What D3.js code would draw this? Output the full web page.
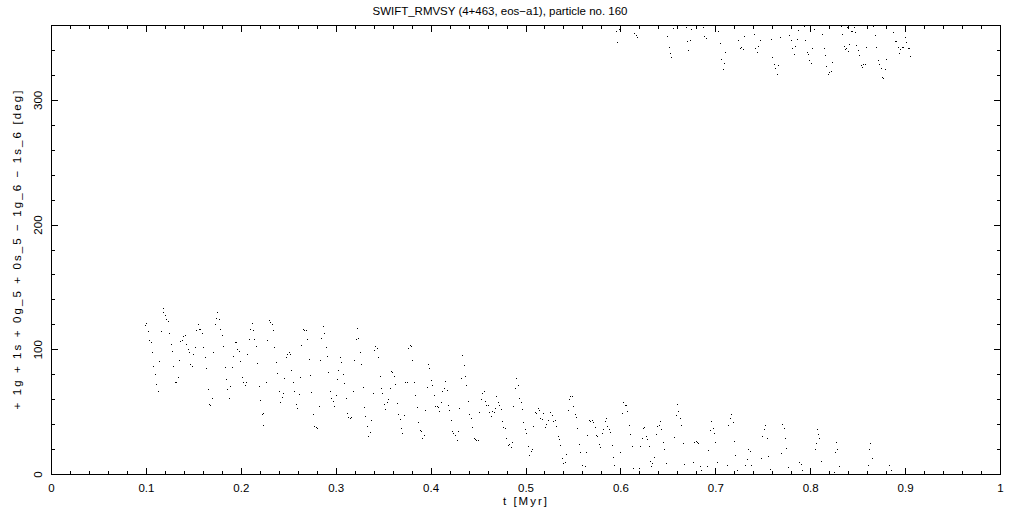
<!DOCTYPE html>
<html>
<head>
<meta charset="utf-8">
<script src="https://cdn.jsdelivr.net/npm/d3@7"></script>
<style>
  html, body { margin: 0; padding: 0; background: #fff; }
  svg { display: block; }
  text { font-family: "Liberation Sans", "DejaVu Sans", sans-serif; fill: #000; }
</style>
</head>
<body>
<svg id="chart" width="1021" height="511"></svg>
<script>
// ---- data ----
const titleText = "SWIFT_RMVSY (4+463, eos\u2212a1), particle no. 160";
const xLabelText = "t [Myr]";
const yLabelText = "+ 1g + 1s + 0g_5 + 0s_5 \u2212 1g_6 \u2212 1s_6 [deg]";
const xTickLabels = ["0","0.1","0.2","0.3","0.4","0.5","0.6","0.7","0.8","0.9","1"];
const yTickLabels = ["0","100","200","300"];
const xDomain = [0, 1];
const yDomain = [0, 360];

// lower band of the angle (t in Myr, angle in deg)
const tLower = [
0.0991,0.1001,0.1025,0.1036,0.1054,0.1068,0.1078,0.1099,0.1110,0.1131,0.1141,0.1162,0.1177,0.1184,0.1201,0.1215,0.1233,0.1247,0.1268,0.1278,
0.1289,0.1310,0.1320,0.1341,0.1352,0.1363,0.1384,0.1394,0.1415,0.1426,0.1447,0.1457,0.1468,0.1489,0.1499,0.1521,0.1531,0.1552,0.1563,0.1573,
0.1594,0.1605,0.1626,0.1637,0.1658,0.1668,0.1679,0.1700,0.1710,0.1731,0.1742,0.1752,0.1773,0.1784,0.1805,0.1816,0.1837,0.1847,0.1858,0.1879,
0.1889,0.1910,0.1921,0.1942,0.1953,0.1963,0.1984,0.1995,0.2016,0.2026,0.2047,0.2058,0.2069,0.2090,0.2100,0.2121,0.2132,0.2142,0.2163,0.2174,
0.2195,0.2205,0.2227,0.2237,0.2237,0.2269,0.2279,0.2300,0.2311,0.2332,0.2343,0.2353,0.2374,0.2385,0.2406,0.2417,0.2437,0.2448,0.2458,0.2479,
0.2490,0.2511,0.2522,0.2532,0.2553,0.2564,0.2585,0.2595,0.2616,0.2627,0.2638,0.2659,0.2669,0.2690,0.2701,0.2722,0.2732,0.2743,0.2764,0.2774,
0.2796,0.2806,0.2827,0.2838,0.2848,0.2869,0.2880,0.2901,0.2912,0.2922,0.2943,0.2954,0.2975,0.2985,0.3006,0.3017,0.3027,0.3049,0.3059,0.3080,
0.3091,0.3112,0.3122,0.3133,0.3154,0.3164,0.3185,0.3196,0.3217,0.3227,0.3238,0.3259,0.3270,0.3291,0.3301,0.3312,0.3333,0.3344,0.3365,0.3375,
0.3396,0.3407,0.3417,0.3438,0.3449,0.3470,0.3480,0.3491,0.3512,0.3523,0.3544,0.3554,0.3575,0.3586,0.3596,0.3618,0.3628,0.3649,0.3660,0.3681,
0.3691,0.3702,0.3723,0.3733,0.3754,0.3765,0.3786,0.3797,0.3807,0.3828,0.3839,0.3860,0.3871,0.3891,0.3902,0.3913,0.3934,0.3944,0.3965,0.3976,
0.3986,0.4007,0.4018,0.4039,0.4049,0.4070,0.4081,0.4092,0.4110,0.4123,0.4144,0.4155,0.4176,0.4187,0.4197,0.4218,0.4229,0.4239,0.4260,0.4281,
0.4292,0.4302,0.4324,0.4334,0.4355,0.4366,0.4376,0.4397,0.4408,0.4429,0.4439,0.4460,0.4471,0.4482,0.4503,0.4513,0.4534,0.4545,0.4566,0.4576,
0.4587,0.4608,0.4619,0.4640,0.4650,0.4671,0.4682,0.4692,0.4713,0.4724,0.4745,0.4756,0.4766,0.4787,0.4798,0.4819,0.4829,0.4850,0.4861,0.4871,
0.4893,0.4903,0.4924,0.4935,0.4956,0.4966,0.4977,0.4998,0.5008,0.5030,0.5040,0.5061,0.5072,0.5082,0.5103,0.5114,0.5135,0.5145,0.5156,0.5177,
0.5188,0.5209,0.5219,0.5240,0.5262,0.5283,0.5293,0.5314,0.5325,0.5346,0.5356,0.5367,0.5388,0.5398,0.5419,0.5430,0.5451,0.5462,0.5472,0.5493,
0.5504,0.5525,0.5535,0.5546,0.5567,0.5578,0.5599,0.5630,0.5641,0.5651,0.5672,0.5683,0.5704,0.5714,0.5735,0.5746,0.5756,0.5777,0.5788,0.5809,
0.5820,0.5841,0.5851,0.5862,0.5883,0.5893,0.5915,0.5925,0.5936,0.5999,0.6020,0.6031,0.6052,0.6062,0.6073,0.6094,0.6104,0.6125,0.6136,0.6199,
0.6210,0.6231,0.6241,0.6252,0.6273,0.6283,0.6304,0.6315,0.6326,0.6336,0.6357,0.6378,0.6389,0.6410,0.6420,0.6431,0.6452,0.6463,0.6484,0.6568,
0.6589,0.6600,0.6610,0.6631,0.6642,0.6663,0.6673,0.6768,0.6779,0.6800,0.6810,0.6821,0.6842,0.6852,0.6916,0.6926,0.6947,0.6958,0.6979,0.6989,
0.7000,0.7021,0.7126,0.7137,0.7158,0.7168,0.7190,0.7200,0.7211,0.7232,0.7316,0.7337,0.7348,0.7369,0.7379,0.7485,0.7495,0.7516,0.7527,0.7548,
0.7558,0.7580,0.7695,0.7706,0.7727,0.7737,0.7748,0.7769,0.7882,0.7903,0.7914,0.8051,0.8061,0.8072,0.8082,0.8093,0.8117,0.8254,0.8265,0.8275,
0.8286,0.8307,0.8612,0.8623,0.8633,0.8655,0.8834,0.8855
];
const phiLower = [
119.5,120.8,114.4,107.2,105.6,97.6,86.3,79.9,71.9,66.5,90.4,114.4,129.7,132.9,127.2,124.0,122.4,112.8,104.0,98.4,
86.3,73.5,73.5,77.5,91.2,106.4,107.2,110.4,111.2,104.0,100.0,97.6,88.0,86.3,96.0,101.6,115.2,120.0,116.0,116.0,
112.8,101.6,93.6,84.7,67.9,55.9,55.1,60.7,97.6,120.0,124.8,129.7,124.0,116.0,111.2,102.4,85.5,75.9,67.9,60.7,
70.3,85.5,94.4,105.6,105.6,100.0,98.4,90.4,77.5,73.5,71.1,73.5,96.0,108.0,116.0,120.8,115.2,108.0,102.4,88.8,
70.3,59.1,47.9,48.7,39.0,73.8,107.2,123.2,121.9,120.0,115.2,101.6,89.6,80.7,66.3,57.5,61.5,64.7,76.7,93.6,
96.0,97.6,96.0,83.1,73.5,66.3,55.9,52.7,63.9,77.5,103.2,116.0,115.2,115.2,108.0,92.0,79.1,65.5,47.9,38.2,
37.4,36.6,54.3,91.2,108.8,118.4,112.8,101.6,94.4,81.5,66.3,60.7,58.3,54.3,63.1,75.9,83.1,93.6,89.6,79.9,
72.7,60.7,48.7,45.5,44.7,45.5,66.3,91.2,108.0,116.8,108.8,97.6,88.0,69.5,53.5,46.3,38.2,30.2,33.4,43.1,
64.7,99.2,102.4,100.8,93.6,78.3,68.7,64.7,55.9,51.9,57.5,59.9,68.7,82.3,81.5,78.3,71.9,56.7,47.9,43.9,
36.6,32.6,47.1,73.5,73.5,100.8,103.2,102.4,91.2,73.5,63.1,53.5,41.5,35.0,34.2,28.6,31.0,51.1,69.5,88.0,
84.7,75.1,71.1,63.1,54.3,54.3,53.5,50.3,57.5,66.3,68.7,74.3,67.1,55.1,51.1,43.1,34.2,32.6,31.0,27.0,
34.2,52.7,76.7,95.2,87.2,78.3,71.1,58.3,47.9,44.7,37.4,28.6,27.8,27.0,27.0,49.5,59.9,64.7,66.3,58.3,
55.1,55.1,49.5,46.3,50.3,49.5,52.7,62.3,57.5,55.1,51.9,42.3,37.4,36.6,28.6,23.0,23.8,21.4,25.4,54.3,
68.7,76.7,71.1,60.7,57.5,51.9,41.5,35.8,32.6,22.2,15.0,18.2,19.8,38.2,49.5,48.7,52.7,51.1,44.7,43.9,
48.7,37.4,39.9,43.1,49.5,47.1,42.3,43.1,38.2,30.2,27.8,23.0,12.6,8.6,9.4,15.8,51.1,59.9,62.3,62.3,
54.3,47.9,45.5,36.6,23.8,17.4,7.0,6.2,17.4,31.0,43.1,42.3,43.1,41.5,37.4,31.0,30.2,23.8,21.4,32.6,
35.8,42.3,44.7,38.2,35.8,33.4,23.0,13.4,7.0,17.4,48.7,57.5,55.1,55.1,50.3,39.0,31.8,22.2,4.6,4.6,
22.2,28.6,36.6,37.4,30.2,27.8,22.2,10.2,6.2,8.6,13.4,31.8,38.2,39.0,42.3,35.8,25.4,19.8,8.6,29.4,
47.1,55.9,50.3,44.7,39.0,24.6,7.8,9.4,25.4,26.2,25.4,24.6,6.2,3.0,6.2,19.0,35.0,42.3,36.6,32.6,
25.4,9.4,7.0,39.0,44.7,47.9,41.5,26.2,15.0,3.0,7.0,11.8,19.8,18.2,7.0,12.6,30.2,35.8,39.0,28.6,
14.2,3.8,16.6,39.9,36.6,28.6,20.6,5.4,9.4,7.8,3.0,19.8,24.6,35.8,31.8,28.6,10.2,1.4,17.4,25.4,
19.8,6.2,7.0,19.8,24.6,12.6,7.0,3.0
];

// upper band of the angle (wrapped near 360 deg)
const tUpper = [
0.5957,0.5968,0.5989,0.6146,0.6167,0.6178,0.6494,0.6515,0.6526,0.6536,0.6557,0.6694,0.6705,0.6715,0.6736,0.6747,0.6800,0.6873,0.6884,0.6905,
0.7032,0.7053,0.7063,0.7084,0.7095,0.7106,0.7242,0.7263,0.7274,0.7295,0.7306,0.7411,0.7422,0.7443,0.7453,0.7474,0.7590,0.7600,0.7621,0.7632,
0.7653,0.7664,0.7685,0.7780,0.7801,0.7811,0.7832,0.7843,0.7864,0.7875,0.7938,0.7948,0.7969,0.7980,0.7990,0.8012,0.8022,0.8043,0.8127,0.8148,
0.8159,0.8170,0.8191,0.8201,0.8222,0.8233,0.8327,0.8338,0.8359,0.8370,0.8380,0.8391,0.8402,0.8412,0.8433,0.8444,0.8465,0.8475,0.8486,0.8507,
0.8517,0.8538,0.8549,0.8559,0.8580,0.8591,0.8665,0.8686,0.8697,0.8718,0.8728,0.8749,0.8760,0.8770,0.8792,0.8802,0.8876,0.8897,0.8908,0.8929,
0.8939,0.8950,0.8971,0.8981,0.9002,0.9013,0.9034,0.9045,0.9055
];
const phiUpper = [
355.0,346.1,356.6,353.4,351.8,350.2,350.9,342.1,337.3,334.1,357.4,358.2,346.9,339.7,347.7,356.6,358.2,358.2,350.9,349.3,
355.0,345.3,332.5,324.5,329.3,338.1,347.7,341.3,342.1,340.5,350.9,352.5,341.3,338.1,342.9,347.7,348.5,334.1,328.5,325.3,
320.5,327.7,350.2,351.8,347.7,341.3,336.5,342.9,348.5,355.8,359.0,347.7,338.1,336.5,331.7,329.3,341.3,356.6,352.5,341.3,
335.7,326.9,320.5,322.1,322.9,330.1,359.0,352.5,342.9,340.5,341.3,358.2,338.9,344.5,355.0,355.0,358.2,354.2,343.7,339.7,
335.7,327.7,326.1,328.5,328.5,342.1,359.0,351.8,342.1,331.7,328.5,325.3,318.1,317.3,324.5,332.5,354.2,346.9,346.9,342.1,
337.3,340.5,342.1,342.1,350.2,346.1,341.3,341.3,334.9
];

// ---- drawing ----
(function () {
  const svg = d3.select("#chart");
  const pL = 51, pR = 1000, pT = 25, pB = 474;
  const x = d3.scaleLinear().domain(xDomain).range([pL, pR]);
  const y = d3.scaleLinear().domain(yDomain).range([pB, pT]);

  const pts = tLower.map((t, i) => ({t, v: phiLower[i]}))
    .concat(tUpper.map((t, i) => ({t, v: phiUpper[i]})));

  svg.append("g").attr("shape-rendering", "crispEdges")
    .selectAll("rect").data(pts).join("rect")
    .attr("x", d => Math.round(x(d.t)))
    .attr("y", d => Math.round(y(d.v)))
    .attr("width", 1).attr("height", 1)
    .attr("fill", "#000");

  // frame
  const g = svg.append("g").attr("shape-rendering", "crispEdges").attr("stroke", "#000").attr("stroke-width", 1);
  g.append("rect").attr("x", pL + 0.5).attr("y", pT + 0.5)
    .attr("width", pR - pL).attr("height", pB - pT).attr("fill", "none");

  // x ticks (minor every 0.02, major every 0.1)
  d3.range(0, 51).forEach(i => {
    const t = i / 50;
    const L = (i % 5 === 0) ? 7 : 4;
    const px = Math.round(x(t)) + 0.5;
    g.append("line").attr("x1", px).attr("x2", px).attr("y1", pB + 1).attr("y2", pB + 1 - L);
    g.append("line").attr("x1", px).attr("x2", px).attr("y1", pT).attr("y2", pT + L);
  });
  // y ticks (minor every 20, major every 100)
  d3.range(0, 19).forEach(i => {
    const v = i * 20;
    const L = (v % 100 === 0) ? 7 : 4;
    const py = Math.round(y(v)) + 0.5;
    g.append("line").attr("y1", py).attr("y2", py).attr("x1", pL).attr("x2", pL + L);
    g.append("line").attr("y1", py).attr("y2", py).attr("x1", pR + 1).attr("x2", pR + 1 - L);
  });

  // x tick labels
  const xTickVals = x.ticks(10);
  svg.append("g").selectAll("text").data(xTickVals).join("text")
    .attr("x", d => x(d) + 0.5)
    .attr("y", 492)
    .attr("text-anchor", "middle")
    .attr("font-size", 11.5)
    .text((d, i) => xTickLabels[i]);

  // y tick labels (rotated)
  const yTickVals = [0, 100, 200, 300];
  svg.append("g").selectAll("text").data(yTickVals).join("text")
    .attr("transform", d => `translate(42,${y(d) + 0.5}) rotate(-90)`)
    .attr("text-anchor", "middle")
    .attr("font-size", 11.5)
    .text((d, i) => yTickLabels[i]);

  // title
  svg.append("text")
    .attr("x", 500).attr("y", 15)
    .attr("text-anchor", "middle")
    .attr("font-size", 11.5)
    .attr("textLength", 255).attr("lengthAdjust", "spacing")
    .text(titleText);

  // x label
  svg.append("text")
    .attr("x", 525).attr("y", 505)
    .attr("text-anchor", "middle")
    .attr("font-size", 11.5)
    .attr("textLength", 44).attr("lengthAdjust", "spacing")
    .text(xLabelText);

  // y label
  svg.append("text")
    .attr("transform", "translate(21,250) rotate(-90)")
    .attr("text-anchor", "middle")
    .attr("font-size", 11.5)
    .attr("textLength", 319).attr("lengthAdjust", "spacing")
    .text(yLabelText);
})();
</script>
</body>
</html>
